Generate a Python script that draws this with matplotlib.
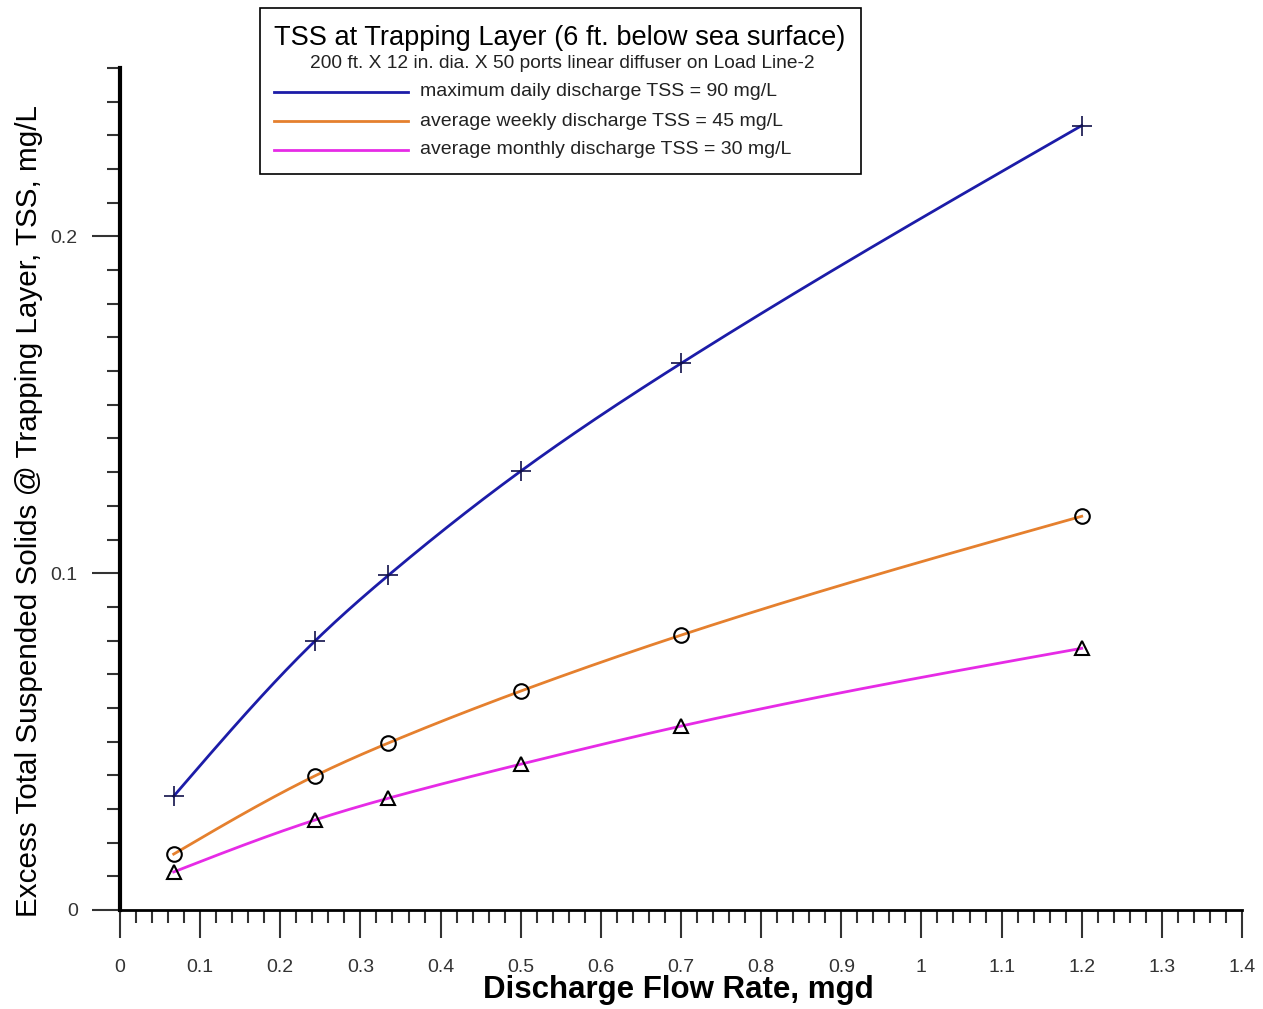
import numpy as np
import matplotlib
matplotlib.use("Agg")
import matplotlib.pyplot as plt
from matplotlib.patches import Rectangle
from matplotlib.lines import Line2D
from matplotlib.ticker import MultipleLocator

plt.rcParams['font.family'] = ['Liberation Sans', 'DejaVu Sans']

flow = [0.067, 0.243, 0.335, 0.5, 0.7, 1.2]
tss_daily = [0.0338, 0.0798, 0.0994, 0.1303, 0.1623, 0.2329]
tss_weekly = [0.0166, 0.0398, 0.0496, 0.0650, 0.0816, 0.1169]
tss_monthly = [0.0113, 0.0267, 0.0332, 0.0433, 0.0546, 0.0777]
labels = ["maximum daily discharge TSS = 90 mg/L",
          "average weekly discharge TSS = 45 mg/L",
          "average monthly discharge TSS = 30 mg/L"]
colors = ["#1c1ca8", "#e5802e", "#e62be6"]
markers = ["+", "o", "^"]


def natural_spline(x, y, n=300):
    x = np.asarray(x, float); y = np.asarray(y, float)
    k = len(x); h = np.diff(x)
    A = np.zeros((k, k)); b = np.zeros(k)
    A[0, 0] = A[-1, -1] = 1
    for i in range(1, k - 1):
        A[i, i - 1] = h[i - 1]; A[i, i] = 2 * (h[i - 1] + h[i]); A[i, i + 1] = h[i]
        b[i] = 3 * ((y[i + 1] - y[i]) / h[i] - (y[i] - y[i - 1]) / h[i - 1])
    c = np.linalg.solve(A, b)
    xs = np.linspace(x[0], x[-1], n); ys = np.empty_like(xs)
    for j, xv in enumerate(xs):
        i = min(np.searchsorted(x, xv, side='right') - 1, k - 2)
        dx = xv - x[i]
        bi = (y[i + 1] - y[i]) / h[i] - h[i] * (2 * c[i] + c[i + 1]) / 3
        di = (c[i + 1] - c[i]) / (3 * h[i])
        ys[j] = y[i] + bi * dx + c[i] * dx ** 2 + di * dx ** 3
    return xs, ys


W, H = 1263, 1009
fig = plt.figure(figsize=(12.63, 10.09), dpi=100)
ax = fig.add_axes([120 / W, 1 - 910 / H, (1242 - 120) / W, (910 - 68) / H])

for ys, col, mk in zip([tss_daily, tss_weekly, tss_monthly], colors, markers):
    sx, sy = natural_spline(flow, ys)
    ax.plot(sx, sy, color=col, lw=2, zorder=2)
    if mk == "+":
        ax.plot(flow, ys, ls='none', marker=mk, ms=14, mew=1.2, color='#10104a', zorder=3)
    else:
        ax.plot(flow, ys, ls='none', marker=mk, ms=10.5, mew=1.5,
                mfc='none', mec='black', zorder=3)

ax.set_xlim(0, 1.4)
ax.set_ylim(0, 0.25)
for s in ['top', 'right']:
    ax.spines[s].set_visible(False)
ax.spines['left'].set_linewidth(3)
ax.spines['bottom'].set_linewidth(2)
ax.xaxis.set_minor_locator(MultipleLocator(0.02))
ax.yaxis.set_minor_locator(MultipleLocator(0.01))
ax.set_xticks(np.round(np.arange(0, 1.41, 0.1), 1))
ax.set_xticklabels(["0"] + [f"{v:g}" for v in np.round(np.arange(0.1, 1.41, 0.1), 1)])
ax.set_yticks([0, 0.1, 0.2])
ax.set_yticklabels(["0", "0.1", "0.2"])
ax.tick_params(axis='x', which='major', direction='out', length=20, width=1.5, labelsize=14,
               pad=15.5, colors='#333333', labelcolor='#333333')
ax.tick_params(axis='x', which='minor', direction='out', length=9.5, width=1.5, colors='#333333')
ax.tick_params(axis='y', which='major', direction='out', length=20, width=1.5, labelsize=14,
               pad=10.5, colors='#333333', labelcolor='#333333')
ax.tick_params(axis='y', which='minor', direction='out', length=9.5, width=1.5, colors='#333333')

ax.set_xlabel("Discharge Flow Rate, mgd", fontsize=22.5, fontweight='bold')
ax.xaxis.set_label_coords(0.498, -0.077)
ax.set_ylabel("Excess Total Suspended Solids @ Trapping Layer, TSS, mg/L", fontsize=21.3)
ax.yaxis.set_label_coords(-0.069, 0.474)

# legend box
fig.patches.append(Rectangle((260 / W, 1 - 174 / H), (861 - 260) / W, (174 - 8) / H,
                             transform=fig.transFigure, fill=True, facecolor='white',
                             edgecolor='black', lw=1.2, zorder=5))
fig.text(560 / W, 1 - 38 / H, "TSS at Trapping Layer (6 ft. below sea surface)", fontsize=19.6,
         ha='center', va='center', zorder=6)
fig.text(562 / W, 1 - 63 / H, "200 ft. X 12 in. dia. X 50 ports linear diffuser on Load Line-2",
         fontsize=13.8, ha='center', va='center', zorder=6, color='#222222')
for i, (lab, col) in enumerate(zip(labels, colors)):
    yy = 1 - (92 + 29 * i) / H
    fig.lines.append(Line2D([274 / W, 408 / W], [yy, yy], transform=fig.transFigure,
                            color=col, lw=2, zorder=6))
    fig.text(420 / W, yy, lab, fontsize=14, ha='left', va='center', zorder=6, color='#222222')

fig.savefig("out.png", dpi=100)
